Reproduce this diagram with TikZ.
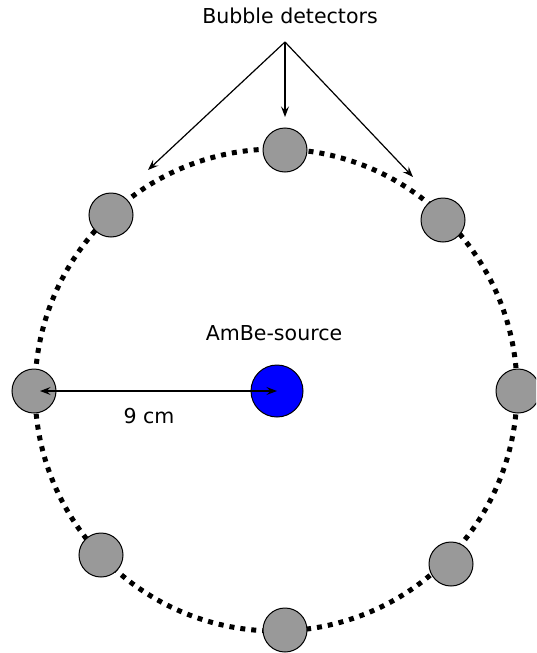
\documentclass[tikz,border=0pt]{standalone}
\usepackage{fontspec}
\setmainfont{DejaVu Sans}
\usetikzlibrary{arrows.meta,positioning}
\definecolor{detgray}{rgb}{0.6,0.6,0.6}
\definecolor{sourceblue}{rgb}{0,0,1}
\tikzset{
  detector/.style={
    circle,
    draw=black,
    fill=detgray,
    line width=.75pt,
    minimum size=33pt,
    inner sep=0pt
  },
  source/.style={
    circle,
    draw=black,
    fill=sourceblue,
    line width=.75pt,
    minimum size=39pt,
    inner sep=0pt
  },
  label/.style={
    font=\fontsize{15.4pt}{18pt}\selectfont,
    inner sep=0pt
  },
  ring/.style={
    line width=3.75pt,
    dash pattern=on 3.75pt off 4.5pt
  },
  arrow/.style={
    -{Stealth[length=8pt,width=6pt,inset=3pt]},
    line width=.9pt
  },
  dimarrow/.style={
    {Stealth[length=8pt,width=6pt,inset=3pt]}-{Stealth[length=8pt,width=6pt,inset=3pt]},
    line width=.9pt
  }
}

\begin{document}
\begin{tikzpicture}[x=.75pt,y=-.75pt]
\useasboundingbox (0,0) rectangle (536,653);
\clip (0,0) rectangle (536,653);
% ring of detectors
\draw[ring] (276,390) circle[radius=180.75pt];
\node[detector] (det-n)  at (285,150) {};
\node[detector] (det-nw) at (111,215) {};
\node[detector] (det-ne) at (443,220) {};
\node[detector] (det-w)  at (34,391) {};
\node[detector] (det-e)  at (518,391) {};
\node[detector] (det-sw) at (101,555) {};
\node[detector] (det-se) at (451,564) {};
\node[detector] (det-s)  at (285,630) {};
\node[source] (src) at (277,391) {};
% labels
\node[label] (title) at (290,16) {Bubble detectors};
\node[label] (srclabel) at (274,333) {AmBe-source};
\node[label] (dist) at (149,416) {9 cm};
% pointers
\coordinate (fork) at (285,42);
\coordinate (tip-nw) at (148,170);
\coordinate (tip-n) at (285,117);
\coordinate (tip-ne) at (413,177);
\draw[arrow] (fork) -- (tip-nw);
\draw[arrow] (fork) -- (tip-n);
\draw[arrow] (fork) -- (tip-ne);
\draw[dimarrow,shorten <=4.5pt] (det-w.center) -- (src.center);
\end{tikzpicture}
\end{document}
